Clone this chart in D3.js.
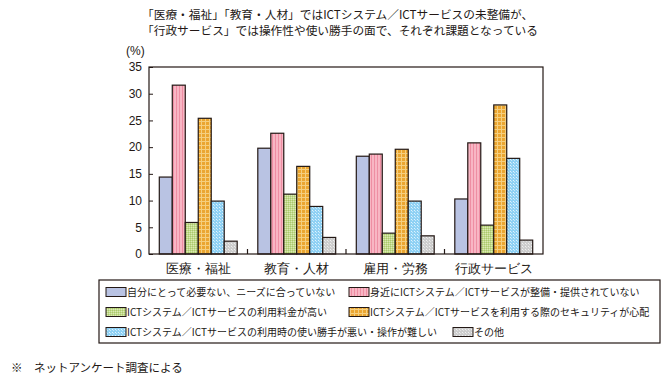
<!DOCTYPE html>
<html><head><meta charset="utf-8">
<script src="https://cdn.jsdelivr.net/npm/d3@7"></script>
<style>
html,body{margin:0;padding:0;background:#fff;}
svg{display:block;font-family:"Noto Sans CJK JP","Noto Sans",sans-serif;}
</style></head>
<body><svg id="c" width="670" height="384"></svg>
<script>
const titleLines = ["「医療・福祉」「教育・人材」ではICTシステム／ICTサービスの未整備が、",
                    "「行政サービス」では操作性や使い勝手の面で、それぞれ課題となっている"];
const categories = ["医療・福祉","教育・人材","雇用・労務","行政サービス"];
const seriesNames = [
  "自分にとって必要ない、ニーズに合っていない",
  "身近にICTシステム／ICTサービスが整備・提供されていない",
  "ICTシステム／ICTサービスの利用料金が高い",
  "ICTシステム／ICTサービスを利用する際のセキュリティが心配",
  "ICTシステム／ICTサービスの利用時の使い勝手が悪い・操作が難しい",
  "その他"
];
const s1 = [14.4, 19.8, 18.3, 10.3];
const s2 = [31.6, 22.6, 18.7, 20.8];
const s3 = [5.9, 11.2, 3.9, 5.4];
const s4 = [25.4, 16.4, 19.6, 27.9];
const s5 = [9.9, 8.9, 9.9, 17.9];
const s6 = [2.4, 3.1, 3.4, 2.6];
const seriesValues = [s1, s2, s3, s4, s5, s6];
const yTicks = [0,5,10,15,20,25,30,35];
const yUnit = "(%)";
const footnote = "※　ネットアンケート調査による";

(function(){
const svg = d3.select("#c");
const ink = "#231815";
const defs = svg.append("defs");

function pat(id, w, h, bg, draw){
  const p = defs.append("pattern").attr("id", id).attr("patternUnits","userSpaceOnUse")
    .attr("width", w).attr("height", h);
  p.append("rect").attr("width", w).attr("height", h).attr("fill", bg);
  draw(p);
}
pat("p1", 4, 4, "#b9c3e3", p=>{});
pat("p2", 3, 3, "#f8b6c4", p=>{
  p.append("rect").attr("x",2).attr("y",0).attr("width",1).attr("height",3).attr("fill","#ee8ea3");
});
pat("p3", 2, 2, "#c2da8c", p=>{
  p.append("rect").attr("x",0).attr("y",0).attr("width",1).attr("height",1).attr("fill","#abc96d");
  p.append("rect").attr("x",1).attr("y",1).attr("width",1).attr("height",1).attr("fill","#dbe9b5");
});
pat("p4", 4, 4, "#eba631", p=>{
  p.append("rect").attr("x",0).attr("y",1).attr("width",4).attr("height",1).attr("fill","#f5cf7f");
  p.append("rect").attr("x",1).attr("y",0).attr("width",1).attr("height",4).attr("fill","#f5cf7f");
});
pat("p5", 3, 3, "#8fd1f4", p=>{
  p.append("rect").attr("x",0).attr("y",0).attr("width",1).attr("height",1).attr("fill","#e0f3fd");
  p.append("rect").attr("x",1).attr("y",1).attr("width",1).attr("height",1).attr("fill","#c4e8fb");
});
pat("p6", 3, 3, "#cdcdcd", p=>{
  p.append("rect").attr("x",0).attr("y",0).attr("width",1).attr("height",1).attr("fill","#f0f0f0");
  p.append("rect").attr("x",1).attr("y",1).attr("width",1).attr("height",1).attr("fill","#e2e2e2");
});
const fills = ["url(#p1)","url(#p2)","url(#p3)","url(#p4)","url(#p5)","url(#p6)"];

svg.append("g").selectAll("text").data(titleLines).join("text")
  .attr("x", 142).attr("y",(d,i)=>19+i*16)
  .attr("font-size", 11.7).attr("fill", ink).text(d=>d);

const L = 149, R = 543, T = 67, B = 254;
const x = d3.scaleBand().domain(categories).range([L, R]).padding(0);
const xs = d3.scaleBand().domain(d3.range(6)).range([10.3, x.bandwidth()-10.3]).padding(0);
const y = d3.scaleLinear().domain([0,35]).range([B, T]);

const g = svg.append("g");
seriesValues.forEach((vals, si)=>{
  g.append("g").selectAll("rect").data(vals).join("rect")
    .attr("x",(d,i)=>x(categories[i])+xs(si))
    .attr("y",d=>y(d))
    .attr("width", xs.bandwidth())
    .attr("height",d=>y(0)-y(d))
    .attr("fill", fills[si])
    .attr("stroke", ink).attr("stroke-width",1.2);
});

svg.append("rect").attr("x",L).attr("y",T).attr("width",R-L).attr("height",B-T)
  .attr("fill","none").attr("stroke",ink).attr("stroke-width",1.2);

const ya = d3.axisLeft(y).tickValues(yTicks).tickSize(-4).tickPadding(7).tickSizeOuter(0);
const yg = svg.append("g").attr("transform",`translate(${L},0)`).call(ya);
yg.select(".domain").remove();
yg.selectAll("line").attr("stroke",ink);
yg.selectAll("text").attr("font-size",12).attr("fill",ink).attr("font-family","'Liberation Sans',sans-serif");
svg.append("text").attr("x",126).attr("y",55).attr("font-size",12).attr("fill",ink)
  .attr("font-family","'Liberation Sans',sans-serif").text(yUnit);

const xa = d3.axisBottom(x).tickSize(0).tickPadding(10);
const xg = svg.append("g").attr("transform",`translate(0,${B})`).call(xa);
xg.select(".domain").remove();
xg.selectAll("text").attr("font-size",12.5).attr("fill",ink);
svg.append("g").selectAll("line").data(categories.slice(1)).join("line")
  .attr("x1",d=>x(d)).attr("x2",d=>x(d)).attr("y1",B).attr("y2",B-5)
  .attr("stroke",ink).attr("stroke-width",1.2);

svg.append("rect").attr("x",99).attr("y",280).attr("width",561).attr("height",63)
  .attr("fill","none").attr("stroke",ink).attr("stroke-width",1.2);
const legPos = [[106,292],[349,292],[106,312],[349,312],[106,332],[453,332]];
const lg = svg.append("g").selectAll("g").data(seriesNames).join("g")
  .attr("transform",(d,i)=>`translate(${legPos[i][0]},${legPos[i][1]})`);
lg.append("rect").attr("x",0).attr("y",-4.5).attr("width",20).attr("height",9)
  .attr("fill",(d,i)=>fills[i]).attr("stroke",ink).attr("stroke-width",1);
lg.append("text").attr("x",21).attr("y",3.6).attr("font-size",10).attr("fill",ink).text(d=>d);

svg.append("text").attr("x",11).attr("y",372).attr("font-size",11.5).attr("fill",ink)
  .attr("xml:space","preserve").text(footnote);
})();
</script></body></html>
